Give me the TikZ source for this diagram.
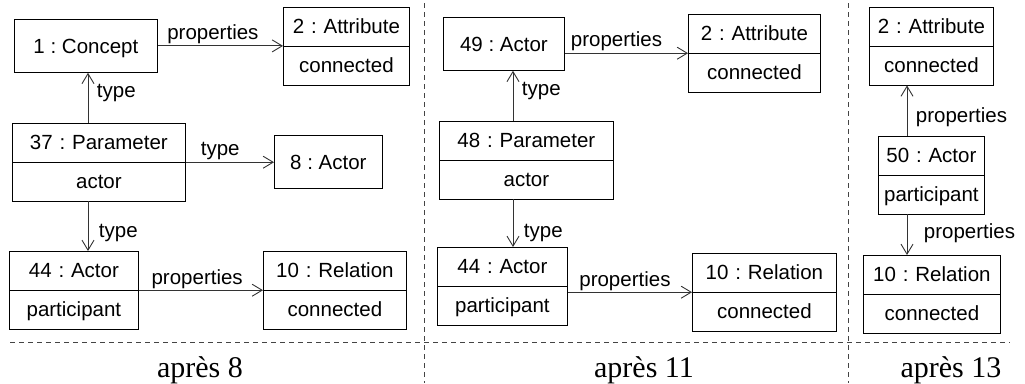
\documentclass[tikz,border=0pt]{standalone}
\usepackage{fontspec}
\setmainfont{Liberation Serif}
\newfontfamily\boxsans{Liberation Sans}
\usetikzlibrary{arrows.meta,calc,shapes.multipart}
\definecolor{ink}{HTML}{000000}
\definecolor{linkgray}{HTML}{333333}
\definecolor{sepgray}{HTML}{444444}
\frenchspacing
\newcommand\boxfont{\boxsans\fontsize{20.5}{24}\selectfont}
\newcommand\capfont{\fontsize{30}{34}\selectfont}
\newcommand\boxstrut{\rule[-4.5pt]{0pt}{23.3pt}}
\tikzset{
  objbox/.style={draw=ink,line width=0.8pt,minimum height=53pt,inner sep=0pt,align=center,font=\boxfont},
  objsplit/.style={draw=ink,line width=0.8pt,rectangle split,rectangle split parts=2,inner xsep=0pt,inner ysep=7.35pt,align=center,font=\boxfont},
  linkarr/.style={-{Straight Barb[length=10pt,width=12pt]},line width=0.9pt,color=linkgray},
  linklbl/.style={font=\boxfont,inner sep=1.5pt,text=ink},
  sepline/.style={color=sepgray,line width=0.8pt,dash pattern=on 5pt off 4pt},
  capt/.style={font=\capfont,anchor=base,inner sep=0pt}
}
\begin{document}
\begin{tikzpicture}[x=1pt,y=-1pt]
  \useasboundingbox (0,0) rectangle (1025,383);
  % apres 8
  \node[objbox,minimum width=143pt,anchor=north west] (c1) at (14,19) {\boxstrut 1 : Concept};
  \node[objsplit,text width=126pt,anchor=north west] (at2) at (283,7) {\boxstrut 2 : Attribute\nodepart{two}\boxstrut connected};
  \node[objsplit,text width=173pt,anchor=north west] (p37) at (12,123) {\boxstrut 37 : Parameter\nodepart{two}\boxstrut actor};
  \node[objbox,minimum width=108pt,anchor=north west] (a8) at (274,135) {\boxstrut 8 : Actor};
  \node[objsplit,text width=129pt,anchor=north west] (a44) at (9,251) {\boxstrut 44 : Actor\nodepart{two}\boxstrut participant};
  \node[objsplit,text width=143pt,anchor=north west] (r10) at (263,251) {\boxstrut 10 : Relation\nodepart{two}\boxstrut connected};
  \draw[linkarr] (c1.east) -- node[linklbl,above,pos=.44] {properties} (c1.east -| at2.west);
  \draw[linkarr] ($(p37.north west)+(76,0)$) -- node[linklbl,right,pos=.6,xshift=7pt] {type} ($(c1.south west)+(74,0)$);
  \draw[linkarr] (p37.text split east) -- node[linklbl,above,pos=.39] {type} (p37.text split east -| a8.west);
  \draw[linkarr] ($(p37.south west)+(76,0)$) -- node[linklbl,right,pos=.64,xshift=9pt] {type} ($(a44.north west)+(79,0)$);
  \draw[linkarr] (a44.text split east) -- node[linklbl,above,pos=.47] {properties} (r10.text split west);
  % apres 11
  \node[objbox,minimum width=121pt,anchor=north west] (a49) at (443,17) {\boxstrut 49 : Actor};
  \node[objsplit,text width=132pt,anchor=north west] (at2b) at (688,14) {\boxstrut 2 : Attribute\nodepart{two}\boxstrut connected};
  \node[objsplit,text width=174pt,anchor=north west] (p48) at (439,121) {\boxstrut 48 : Parameter\nodepart{two}\boxstrut actor};
  \node[objsplit,text width=130pt,anchor=north west] (a44b) at (437,247) {\boxstrut 44 : Actor\nodepart{two}\boxstrut participant};
  \node[objsplit,text width=144pt,anchor=north west] (r10b) at (692,253) {\boxstrut 10 : Relation\nodepart{two}\boxstrut connected};
  \draw[linkarr] (a49.east |- at2b.text split west) -- node[linklbl,above,pos=.42] {properties} (at2b.text split west);
  \draw[linkarr] ($(p48.north west)+(74,0)$) -- node[linklbl,right,pos=.6,xshift=7pt] {type} ($(a49.south west)+(70,0)$);
  \draw[linkarr] ($(p48.south west)+(74,0)$) -- node[linklbl,right,pos=.7,xshift=9pt] {type} ($(a44b.north west)+(76,0)$);
  \draw[linkarr] (a44b.east |- r10b.text split west) -- node[linklbl,above,pos=.46] {properties} (r10b.text split west);
  % apres 13
  \node[objsplit,text width=124pt,anchor=north west] (at2c) at (869,7) {\boxstrut 2 : Attribute\nodepart{two}\boxstrut connected};
  \node[objsplit,text width=106pt,anchor=north west] (a50) at (878,136) {\boxstrut 50 : Actor\nodepart{two}\boxstrut participant};
  \node[objsplit,text width=137pt,anchor=north west] (r10c) at (863,255) {\boxstrut 10 : Relation\nodepart{two}\boxstrut connected};
  \draw[linkarr] ($(a50.north west)+(29,0)$) -- node[linklbl,right,pos=.37,xshift=7pt] {properties} ($(at2c.south west)+(38,0)$);
  \draw[linkarr] ($(a50.south west)+(29,0)$) -- node[linklbl,right,pos=.47,xshift=15pt] {properties} ($(r10c.north west)+(44,0)$);
  % separators and captions
  \draw[sepline] (10,342) -- (1010,342);
  \draw[sepline] (424,3) -- (424,383);
  \draw[sepline] (848,3) -- (848,383);
  \node[capt] (cap8) at (200,377) {après 8};
  \node[capt] (cap11) at (644,377) {après 11};
  \node[capt] (cap13) at (951,377) {après 13};
\end{tikzpicture}
\end{document}
